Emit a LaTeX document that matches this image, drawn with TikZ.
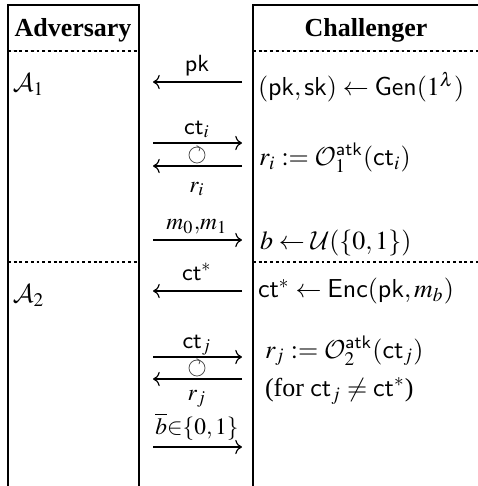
\documentclass[tikz,border=0pt]{standalone}
\usepackage{mathptmx}
\DeclareMathAlphabet{\mathcal}{OMS}{cmsy}{m}{n}
\usepackage[no-math]{fontspec}
\setmainfont{Liberation Serif}
\usetikzlibrary{arrows.meta}

\begin{document}
\begin{tikzpicture}[x=0.385pt,y=-0.385pt,
  every node/.style={inner sep=0pt,outer sep=0pt},
  frame/.style={line width=0.4pt},
  phase/.style={line width=0.4pt,dash pattern=on 1.1pt off 1.1pt},
  msg/.style={-{To[length=2.6pt,width=5.5pt]},line width=0.45pt},
  lbl/.style={font=\small,anchor=base},
  txt/.style={anchor=west},
  spin/.style={line width=0.3pt,black!70}]
  \useasboundingbox (0,0) rectangle (478,486);
  % the two columns
  \draw[frame] (8,486) -- (8,5) -- (139,5) -- (139,486);
  \draw[frame] (253,486) -- (253,5) -- (478,5);
  \draw[phase] (8,51) -- (139,51) (253,51) -- (478,51);
  \draw[phase] (8,262) -- (139,262) (253,262) -- (478,262);
  \node[font=\bfseries] (adv) at (73,30) {Adversary};
  \node[font=\bfseries] (chal) at (366,30) {Challenger};
  \node[txt] (A1) at (13,85) {$\mathcal{A}_1$};
  \node[txt] (A2) at (13,296) {$\mathcal{A}_2$};
  % message ends
  \foreach \n/\y in {pk/82,cti/143,ri/166,m/240,cts/291,ctj/357,rj/379,bb/447}
    {\coordinate (\n A) at (153,\y); \coordinate (\n C) at (242,\y);}
  \draw[msg] (pkC) -- (pkA);
  \draw[msg] (ctiA) -- (ctiC);
  \draw[msg] (riC) -- (riA);
  \draw[msg] (mA) -- (mC);
  \draw[msg] (ctsC) -- (ctsA);
  \draw[msg] (ctjA) -- (ctjC);
  \draw[msg] (rjC) -- (rjA);
  \draw[msg] (bbA) -- (bbC);
  \node[lbl] (pkl) at (197,71) {$\mathsf{pk}$};
  \node[lbl] (ctil) at (197,134) {$\mathsf{ct}_i$};
  \node[lbl] (ril) at (197,192) {$r_i$};
  \node[lbl] (ml) at (197,229) {$m_0{,}m_1$};
  \node[lbl] (ctsl) at (197,280) {$\mathsf{ct}^*$};
  \node[lbl] (ctjl) at (197,348) {$\mathsf{ct}_j$};
  \node[lbl] (rjl) at (197,400) {$r_j$};
  \node[lbl] (bbl) at (197,434) {$\overline{b}{\in}\{0,1\}$};
  % oracle loops
  \coordinate (spini) at (197,155);
  \coordinate (spinj) at (197,368);
  \foreach \s in {spini,spinj}{
    \draw[spin] (\s) circle (8);
    \draw[spin] (\s) ++(3,-7.4) -- ++(-3.5,-2) (\s) ++(3,-7.4) -- ++(-1,3.5);
  }
  % challenger side
  \node[txt] (gen) at (258,87) {$(\mathsf{pk},\mathsf{sk}) \leftarrow \mathsf{Gen}(1^\lambda)$};
  \node[txt] (orai) at (259,158) {$r_i := \mathcal{O}_1^{\mathsf{atk}}(\mathsf{ct}_i)$};
  \node[txt] (coin) at (260,243) {$b \leftarrow \mathcal{U}(\{0,1\})$};
  \node[txt] (enc) at (258,291) {$\mathsf{ct}^* \leftarrow \mathsf{Enc}(\mathsf{pk},m_b)$};
  \node[txt] (oraj) at (265,351) {$r_j := \mathcal{O}_2^{\mathsf{atk}}(\mathsf{ct}_j)$};
  \node[txt] (excl) at (265,391) {(for $\mathsf{ct}_j \neq \mathsf{ct}^*$)};
\end{tikzpicture}
\end{document}
